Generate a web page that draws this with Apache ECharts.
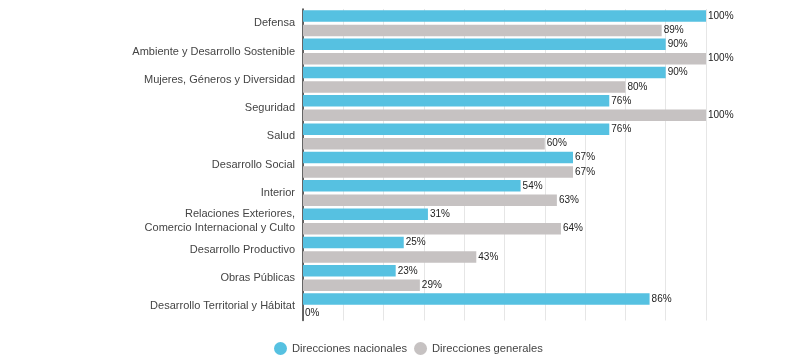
<!DOCTYPE html>
<html><head><meta charset="utf-8">
<script src="https://cdn.jsdelivr.net/npm/echarts@6/dist/echarts.min.js"></script>
<style>html,body{margin:0;padding:0;background:#fff}#c{width:800px;height:357px}</style>
</head><body><div id="c"></div>
<script>
const categories = ["Defensa","Ambiente y Desarrollo Sostenible","Mujeres, Géneros y Diversidad","Seguridad","Salud","Desarrollo Social","Interior","Relaciones Exteriores,\nComercio Internacional y Culto","Desarrollo Productivo","Obras Públicas","Desarrollo Territorial y Hábitat"];
const nacionales = [100,90,90,76,76,67,54,31,25,23,86];
const generales = [89,100,80,100,60,67,63,64,43,29,0];
const xTicks = [0,10,20,30,40,50,60,70,80,90,100];

const chart = echarts.init(document.getElementById('c'), null, {renderer:'canvas'});
const lbl = {show:true, position:'right', distance:2, formatter:'{c}%', color:'#222', fontSize:10, fontFamily:'Liberation Sans'};
chart.setOption({
  animation:false,
  textStyle:{fontFamily:'Liberation Sans'},
  grid:{left:303, right:94, top:9, height:311.5},
  xAxis:{type:'value', min:xTicks[0], max:xTicks[xTicks.length-1], interval:10,
    axisLabel:{show:false}, axisLine:{show:false}, axisTick:{show:false},
    splitLine:{show:true, lineStyle:{color:'#e6e6e6', width:1}}},
  yAxis:{type:'category', data:categories, inverse:true,
    axisLine:{show:true, lineStyle:{color:'#333', width:1.5}}, axisTick:{show:false},
    axisLabel:{color:'#444', fontSize:11, margin:8, lineHeight:14, fontFamily:'Liberation Sans'}},
  legend:{top:342, left:274, padding:0, itemGap:7, icon:'circle', itemWidth:13, itemHeight:13,
    textStyle:{color:'#444', fontSize:11.2, fontFamily:'Liberation Sans'}},
  series:[
    {name:'Direcciones nacionales', type:'bar', data:nacionales, barWidth:11.5, barGap:'26%', itemStyle:{color:'#56c1e1'}, label:lbl},
    {name:'Direcciones generales', type:'bar', data:generales, barWidth:11.5, barGap:'26%', itemStyle:{color:'#c6c2c2'}, label:lbl}
  ]
});
</script></body></html>
